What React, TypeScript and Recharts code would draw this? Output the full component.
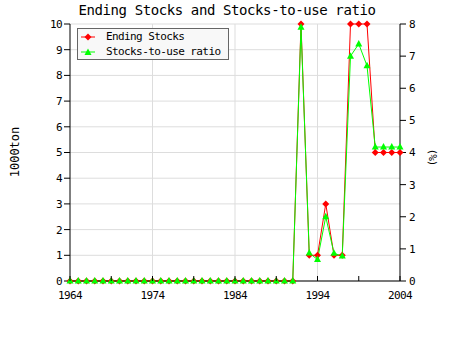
import React from "react";
import {
	CartesianGrid,
	Line,
	LineChart,
	ReferenceLine,
	XAxis,
	YAxis
} from "recharts";

document.body.style.margin = "0";

const years = [
	1964, 1965, 1966, 1967, 1968, 1969, 1970, 1971, 1972, 1973, 1974, 1975,
	1976, 1977, 1978, 1979, 1980, 1981, 1982, 1983, 1984, 1985, 1986, 1987,
	1988, 1989, 1990, 1991, 1992, 1993, 1994, 1995, 1996, 1997, 1998, 1999,
	2000, 2001, 2002, 2003, 2004
];
const endingStocks = [
	0, 0, 0, 0, 0, 0, 0, 0, 0, 0, 0, 0, 0, 0, 0, 0, 0, 0, 0, 0, 0, 0, 0, 0, 0,
	0, 0, 0, 10, 1, 1, 3, 1, 1, 10, 10, 10, 5, 5, 5, 5
];
const stocksToUse = [
	0, 0, 0, 0, 0, 0, 0, 0, 0, 0, 0, 0, 0, 0, 0, 0, 0, 0, 0, 0, 0, 0, 0, 0, 0,
	0, 0, 0, 7.9, 0.87, 0.67, 2.0, 0.86, 0.78, 7.0, 7.38, 6.7, 4.17, 4.17,
	4.17, 4.17
];
const xTicks = [1964, 1969, 1974, 1979, 1984, 1989, 1994, 1999, 2004];
const xLabels = [1964, 1974, 1984, 1994, 2004];
const leftTicks = [0, 1, 2, 3, 4, 5, 6, 7, 8, 9, 10];
const rightTicks = [0, 1, 2, 3, 4, 5, 6, 7, 8];

const data = years.map((year, i) => ({
	year,
	stocks: endingStocks[i],
	ratio: stocksToUse[i]
}));

const FONT = "'DejaVu Sans Mono', monospace";
const RED = "#ff0000";
const GREEN = "#00ff00";

const tickStyle = { fontSize: 11, fontFamily: FONT, fill: "#000", letterSpacing: -0.6 };

function Diamond({ cx, cy }: any) {
	if (cx == null || cy == null) return <g />;
	return (
		<polygon
			points={`${cx},${cy - 3.5} ${cx + 3.5},${cy} ${cx},${cy + 3.5} ${cx - 3.5},${cy}`}
			fill={RED}
		/>
	);
}

function Triangle({ cx, cy }: any) {
	if (cx == null || cy == null) return <g />;
	return (
		<polygon
			points={`${cx},${cy - 4} ${cx + 3.5},${cy + 2.5} ${cx - 3.5},${cy + 2.5}`}
			fill={GREEN}
		/>
	);
}

function YearTick({ x, y, payload }: any) {
	const showLabel = xLabels.includes(payload.value);
	return (
		<g>
			<line x1={x} y1={y} x2={x} y2={y - 5} stroke="#000" />
			{showLabel && (
				<text x={x} y={y + 18} textAnchor="middle" {...tickStyle}>
					{payload.value}
				</text>
			)}
		</g>
	);
}

function LegendBox() {
	const items = [
		{ name: "Ending Stocks", color: RED, shape: "diamond" },
		{ name: "Stocks-to-use ratio", color: GREEN, shape: "triangle" }
	];
	return (
		<div
			style={{
				position: "absolute",
				left: 77,
				top: 28,
				width: 150,
				height: 30,
				border: "1px solid #666",
				background: "#f8f8f8",
				fontFamily: FONT,
				fontSize: 11,
				letterSpacing: -0.6
			}}
		>
			{items.map((it, i) => (
				<div
					key={it.name}
					style={{ position: "absolute", left: 1, top: 1 + i * 15, height: 14, display: "flex", alignItems: "center" }}
				>
					<svg width={24} height={14}>
						<line x1={2} y1={7} x2={16} y2={7} stroke={it.color} strokeWidth={1} />
						{it.shape === "diamond" ? (
							<Diamond cx={9} cy={7} />
						) : (
							<Triangle cx={9} cy={7.5} />
						)}
					</svg>
					<span style={{ marginLeft: 3, lineHeight: "14px" }}>{it.name}</span>
				</div>
			))}
		</div>
	);
}

export default function App() {
	return (
		<div style={{ position: "relative", width: 450, height: 350, background: "#fff", fontFamily: FONT }}>
			<LineChart
				width={450}
				height={350}
				data={data}
				margin={{ top: 24, right: 20, bottom: 39, left: 40 }}
			>
				<CartesianGrid yAxisId="left" vertical={false} stroke="#dddddd" />
				{xLabels.slice(1, -1).map((yr) => (
					<ReferenceLine key={yr} x={yr} yAxisId="left" stroke="#dddddd" />
				))}
				<XAxis
					dataKey="year"
					type="number"
					domain={[1964, 2004]}
					ticks={xTicks}
					interval={0}
					height={30}
					tickSize={0}
					tickMargin={0}
					tickLine={false}
					tick={<YearTick />}
					axisLine={{ stroke: "#000" }}
				/>
				<YAxis
					yAxisId="left"
					domain={[0, 10]}
					ticks={leftTicks}
					interval={0}
					width={30}
					tickSize={6}
					tickMargin={2}
					tick={tickStyle}
					tickLine={{ stroke: "#000" }}
					axisLine={{ stroke: "#000" }}
				/>
				<YAxis
					yAxisId="right"
					orientation="right"
					domain={[0, 8]}
					ticks={rightTicks}
					interval={0}
					width={30}
					tickSize={6}
					tickMargin={3}
					tick={tickStyle}
					tickLine={{ stroke: "#000" }}
					axisLine={{ stroke: "#000" }}
				/>
				<Line
					yAxisId="left"
					dataKey="stocks"
					type="linear"
					stroke={RED}
					strokeWidth={1}
					dot={<Diamond />}
					activeDot={false}
					isAnimationActive={false}
				/>
				<Line
					yAxisId="right"
					dataKey="ratio"
					type="linear"
					stroke={GREEN}
					strokeWidth={1}
					dot={<Triangle />}
					activeDot={false}
					isAnimationActive={false}
				/>
			</LineChart>
			<div
				style={{
					position: "absolute",
					left: 0,
					width: 454,
					top: 2,
					textAlign: "center",
					fontSize: 14,
					letterSpacing: -0.4
				}}
			>
				Ending Stocks and Stocks-to-use ratio
			</div>
			<div
				style={{
					position: "absolute",
					left: 15,
					top: 152,
					transform: "translate(-50%, -50%) rotate(-90deg)",
					fontSize: 12,
					whiteSpace: "nowrap"
				}}
			>
				1000ton
			</div>
			<div
				style={{
					position: "absolute",
					left: 432,
					top: 157,
					transform: "translate(-50%, -50%) rotate(90deg)",
					fontSize: 11,
					letterSpacing: -1,
					whiteSpace: "nowrap"
				}}
			>
				(%)
			</div>
			<LegendBox />
		</div>
	);
}
